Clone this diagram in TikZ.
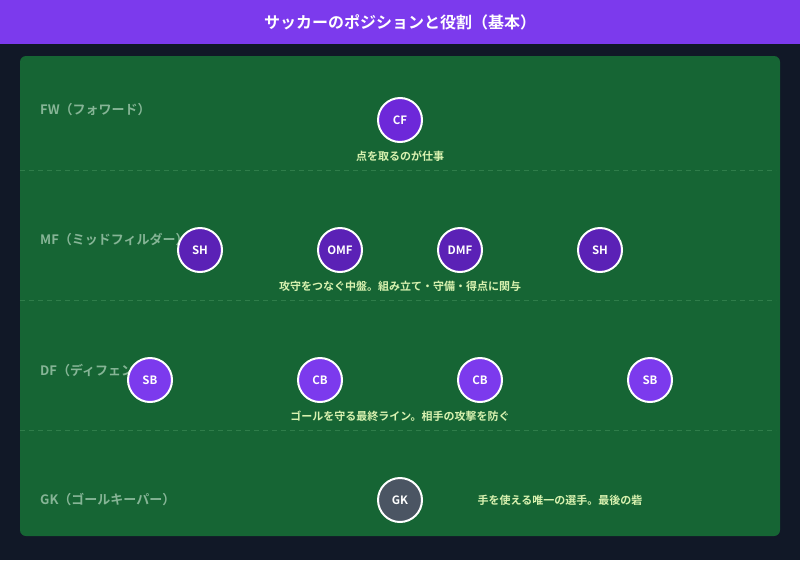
\documentclass[tikz,border=0pt]{standalone}
\usepackage{fontspec}
\setmainfont{Noto Sans CJK JP}[BoldFont={* Bold}]
\definecolor{bgnavy}{HTML}{111827}
\definecolor{hdr}{HTML}{7C3AED}
\definecolor{pitch}{HTML}{166534}
\definecolor{dashc}{HTML}{2F7D4A}
\definecolor{rowlab}{HTML}{86B596}
\definecolor{desc}{HTML}{D9F2B0}
\definecolor{fwc}{HTML}{6D28D9}
\definecolor{mfc}{HTML}{5B21B6}
\definecolor{dfc}{HTML}{7C3AED}
\definecolor{gkc}{HTML}{4B5563}
\tikzset{
  player/.style={circle, draw=white, line width=2pt, minimum size=44pt, inner sep=0pt, text=white, font=\bfseries\fontsize{11.5}{12}\selectfont},
  rowlabel/.style={anchor=west, text=rowlab, font=\bfseries\fontsize{13}{14}\selectfont, inner sep=0pt},
  desctext/.style={text=desc, font=\bfseries\fontsize{11}{12}\selectfont, inner sep=0pt},
  divider/.style={dashc, line width=1pt, dash pattern=on 5pt off 4pt},
}
\begin{document}
\begin{tikzpicture}[x=1pt,y=-1pt]
\useasboundingbox (0,0) rectangle (800,560);
\fill[bgnavy] (0,0) rectangle (800,560);
\fill[hdr] (0,0) rectangle (800,44);
\node[text=white, font=\bfseries\fontsize{16}{17}\selectfont] (title) at (400,22) {サッカーのポジションと役割（基本）};
\fill[pitch, rounded corners=6pt] (20,56) rectangle (780,536);
\coordinate (d1l) at (20,170); \coordinate (d1r) at (776,170);
\coordinate (d2l) at (20,300); \coordinate (d2r) at (776,300);
\coordinate (d3l) at (20,430); \coordinate (d3r) at (776,430);
\draw[divider] (d1l) -- (d1r);
\draw[divider] (d2l) -- (d2r);
\draw[divider] (d3l) -- (d3r);
% row labels
\node[rowlabel] (lfw) at (40,110) {FW（フォワード）};
\node[rowlabel] (lmf) at (40,240) {MF（ミッドフィルダー）};
\node[rowlabel] (ldf) at (40,370) {DF（ディフェンダー）};
\node[rowlabel] (lgk) at (40,500) {GK（ゴールキーパー）};
% players
\node[player, fill=fwc] (cf) at (400,120) {CF};
\node[player, fill=mfc] (sh1) at (200,250) {SH};
\node[player, fill=mfc] (omf) at (340,250) {OMF};
\node[player, fill=mfc] (dmf) at (460,250) {DMF};
\node[player, fill=mfc] (sh2) at (600,250) {SH};
\node[player, fill=dfc] (sb1) at (150,380) {SB};
\node[player, fill=dfc] (cb1) at (320,380) {CB};
\node[player, fill=dfc] (cb2) at (480,380) {CB};
\node[player, fill=dfc] (sb2) at (650,380) {SB};
\node[player, fill=gkc] (gk) at (400,500) {GK};
% descriptions
\node[desctext] (dfw) at (400,156) {点を取るのが仕事};
\node[desctext] (dmfd) at (400,286) {攻守をつなぐ中盤。組み立て・守備・得点に関与};
\node[desctext] (ddf) at (400,416) {ゴールを守る最終ライン。相手の攻撃を防ぐ};
\node[desctext] (dgk) at (560,500) {手を使える唯一の選手。最後の砦};
\end{tikzpicture}
\end{document}
